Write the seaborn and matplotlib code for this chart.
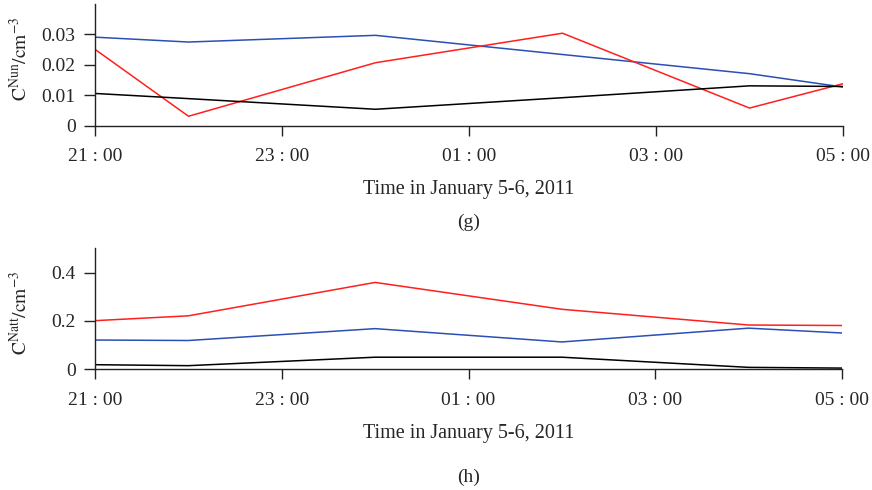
import matplotlib
matplotlib.use("Agg")
import matplotlib.pyplot as plt
import seaborn as sns
import pandas as pd

sns.set_theme(style="white")
plt.rcParams["font.family"] = ["Liberation Serif", "DejaVu Serif"]
plt.rcParams["mathtext.fontset"] = "stix"

# Sampling times (hours after 21:00 on January 5)
times = ["21:00", "22:00", "00:00", "02:00", "04:00", "05:00"]

# Panel (g): C^Nun concentrations
nun_blue = [0.0291, 0.0275, 0.0297, 0.0234, 0.0171, 0.0127]
nun_red = [0.0251, 0.0031, 0.0207, 0.0304, 0.0058, 0.0138]
nun_black = [0.0106, 0.0089, 0.0054, 0.0092, 0.0131, 0.0129]

# Panel (h): C^Natt concentrations
natt_red = [0.201, 0.221, 0.359, 0.248, 0.183, 0.181]
natt_blue = [0.121, 0.119, 0.168, 0.113, 0.170, 0.150]
natt_black = [0.019, 0.015, 0.050, 0.050, 0.008, 0.005]

tick_labels = ["21 : 00", "23 : 00", "01 : 00", "03 : 00", "05 : 00"]


def hours_after_21(label):
    h, m = label.split(":")
    return (int(h) - 21) % 24 + int(m) / 60


hours = [hours_after_21(t) for t in times]
palette = {"blue": "#2b4fb3", "red": "#ff1f1f", "black": "#000000"}


def long_frame(series):
    rows = []
    for name, vals in series.items():
        for x, v in zip(hours, vals):
            rows.append({"hour": x, "value": v, "series": name})
    return pd.DataFrame(rows)


fig = plt.figure(figsize=(8.72, 4.9), dpi=100)
ax_g = fig.add_axes([95 / 872, 1 - 125.7 / 490, 748 / 872, 121.7 / 490])
ax_h = fig.add_axes([95 / 872, 1 - 369.3 / 490, 747 / 872, 121 / 490])

panels = [
    (ax_g, {"blue": nun_blue, "red": nun_red, "black": nun_black},
     (0, 0.04), [0, 0.01, 0.02, 0.03], ["0", "0.01", "0.02", "0.03"],
     r"$\mathrm{C}^{\mathrm{Nun}}/\mathrm{cm}^{-3}$", 0.55, "(g)", 222),
    (ax_h, {"red": natt_red, "blue": natt_blue, "black": natt_black},
     (0, 0.5), [0, 0.2, 0.4], ["0", "0.2", "0.4"],
     r"$\mathrm{C}^{\mathrm{Natt}}/\mathrm{cm}^{-3}$", 0.47, "(h)", 477),
]

for ax, series, ylim, yticks, ylabels, ylab, ylab_y, tag, tag_px in panels:
    df = long_frame(series)
    sns.lineplot(data=df, x="hour", y="value", hue="series", palette=palette,
                 linewidth=1.1, legend=False, ax=ax)
    ax.set_xlim(0, 8)
    ax.set_ylim(*ylim)
    ax.set_xticks([0, 2, 4, 6, 8])
    ax.set_xticklabels(tick_labels, fontsize=14)
    ax.set_yticks(yticks)
    ax.set_yticklabels(ylabels, fontsize=14)
    ax.set_xlabel("Time in January 5-6, 2011", fontsize=14.5, labelpad=11)
    ax.set_ylabel(ylab, fontsize=14)
    ax.yaxis.set_label_coords(-0.086, ylab_y)
    for side in ["top", "right"]:
        ax.spines[side].set_visible(False)
    for side in ["left", "bottom"]:
        ax.spines[side].set_color("#222222")
        ax.spines[side].set_linewidth(1.0)
    ax.tick_params(axis="x", direction="out", length=7, width=1.0,
                   color="#222222", pad=9, bottom=True)
    ax.tick_params(axis="y", direction="out", length=8, width=1.0,
                   color="#222222", pad=6, left=True)
    fig.text(469 / 872, 1 - tag_px / 490, tag, ha="center", va="center",
             fontsize=14)

fig.savefig("out.png", dpi=100)
